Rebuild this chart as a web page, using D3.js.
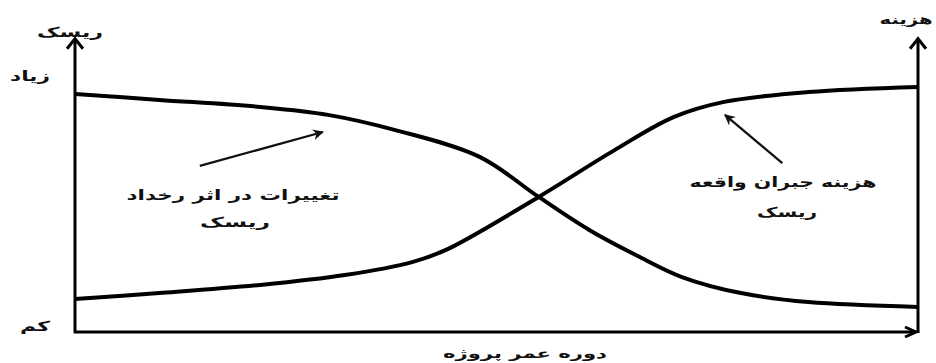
<!DOCTYPE html>
<html>
<head>
<meta charset="utf-8">
<script src="https://cdn.jsdelivr.net/npm/d3@7"></script>
<style>
  body { margin: 0; background: #fff; }
  svg { display: block; }
  text { font-family: "DejaVu Sans", sans-serif; font-weight: bold; fill: #111; }
</style>
</head>
<body>
<script>
// risk curve (falls over project life)
var riskX = [0, 10, 22, 30, 38, 48, 55, 61, 67, 72, 79, 87, 100];
var riskY = [84.4, 82.3, 79.8, 77.0, 71.6, 62.1, 47.9, 36.2, 26.6, 19.5, 13.8, 10.6, 8.9];

// cost curve (rises over project life)
var costX = [0, 10, 22, 32, 40, 44, 55, 64, 71, 77, 87, 100];
var costY = [11.7, 13.8, 16.7, 20.2, 24.8, 29.1, 47.9, 64.5, 76.2, 81.6, 85.1, 86.9];

var axisTitles = ["ریسک", "هزینه", "دوره عمر پروژه"];
var levelLabels = ["زیاد", "کم"];
var noteLeft = ["تغییرات در اثر رخداد", "ریسک"];
var noteRight = ["هزینه جبران واقعه", "ریسک"];

var width = 936, height = 363;

var svg = d3.select('body').append('svg')
  .attr("width", width)
  .attr("height", height);

var x = d3.scaleLinear().domain([0, 100]).range([75, 918]);
var y = d3.scaleLinear().domain([0, 100]).range([332, 50]);
var yTop = 104; // arrow tips sit a bit above the domain

// axes
function chevron(tx, ty, dir) {
  // open arrow head, dir: "up" or "right"
  var p = d3.path();
  if (dir == "up") {
    p.moveTo(tx - 8, ty + 10); p.lineTo(tx, ty); p.lineTo(tx + 8, ty + 10);
  } else {
    p.moveTo(tx - 11, ty - 5); p.lineTo(tx, ty); p.lineTo(tx - 11, ty + 5);
  }
  return p.toString();
}

var axes = svg.append("g")
  .attr("stroke", "#000")
  .attr("stroke-width", 3)
  .attr("fill", "none");

axes.append("line")
  .attr("x1", x(0)).attr("y1", y(0) + 1)
  .attr("x2", x(0)).attr("y2", y(yTop) + 1);
axes.append("line")
  .attr("x1", x(100)).attr("y1", y(0) + 1)
  .attr("x2", x(100)).attr("y2", y(yTop) + 1);
axes.append("line")
  .attr("x1", x(0) - 1).attr("y1", y(0))
  .attr("x2", x(100) - 2).attr("y2", y(0));

axes.append("path").attr("d", chevron(x(0), y(yTop), "up"));
axes.append("path").attr("d", chevron(x(100), y(yTop), "up"));
axes.append("path").attr("d", chevron(x(100) - 2, y(0), "right"));

// curves
var line = d3.line()
  .x(d => x(d[0]))
  .y(d => y(d[1]))
  .curve(d3.curveCatmullRom.alpha(0.5));

svg.append("path")
  .datum(riskX.map((v, i) => [v, riskY[i]]))
  .attr("d", line)
  .attr("fill", "none")
  .attr("stroke", "#000")
  .attr("stroke-width", 4);

svg.append("path")
  .datum(costX.map((v, i) => [v, costY[i]]))
  .attr("d", line)
  .attr("fill", "none")
  .attr("stroke", "#000")
  .attr("stroke-width", 4);

// annotation arrows
svg.append("defs").append("marker")
  .attr("id", "head")
  .attr("viewBox", "0 0 10 10")
  .attr("refX", 9).attr("refY", 5)
  .attr("markerWidth", 5).attr("markerHeight", 5)
  .attr("orient", "auto")
  .append("path")
  .attr("d", "M0,0L10,5L0,10L3,5z")
  .attr("fill", "#111");

function note(x1, y1, x2, y2) {
  svg.append("line")
    .attr("x1", x(x1)).attr("y1", y(y1))
    .attr("x2", x(x2)).attr("y2", y(y2))
    .attr("stroke", "#111")
    .attr("stroke-width", 2.2)
    .attr("marker-end", "url(#head)");
}
note(14.8, 58.9, 29.4, 70.9);
note(83.9, 59.9, 77.1, 77.0);

// text, stretched sideways to the width of the original lettering
function label(txt, cx, cy, size, w) {
  var t = svg.append("text")
    .attr("text-anchor", "middle")
    .attr("direction", "rtl")
    .style("font-size", size + "px")
    .text(txt);
  var sx = w / t.node().getComputedTextLength();
  t.attr("transform", "translate(" + cx + "," + cy + ") scale(" + sx + ",1)");
}

label(axisTitles[0], 70, 37, 14, 66);
label(axisTitles[1], 906, 24, 13, 53);
label(axisTitles[2], 525, 358, 13, 164);
label(levelLabels[0], 30, 81, 14, 40);
label(levelLabels[1], 35, 331, 14, 30);
label(noteLeft[0], 233, 200, 14, 213);
label(noteLeft[1], 235, 227, 14, 70);
label(noteRight[0], 783, 187, 14, 187);
label(noteRight[1], 787, 217, 14, 60);
</script>
</body>
</html>
